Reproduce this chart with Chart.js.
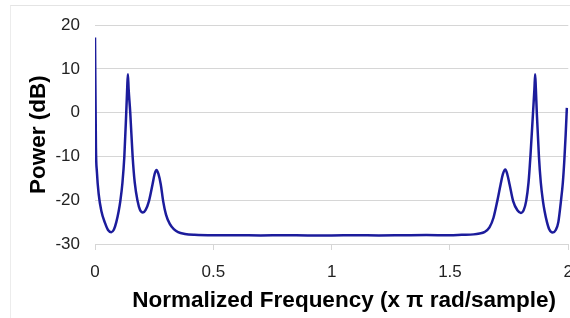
<!DOCTYPE html>
<html>
<head>
<meta charset="utf-8">
<script src="https://cdn.jsdelivr.net/npm/chart.js@4"></script>
<style>
    html, body { margin: 0; padding: 0; background: #fff; overflow: hidden; width: 570px; height: 318px; }
    #frame { position: absolute; left: 10px; top: 5px; width: 580px; height: 330px; border-top: 1px solid #e4e4e4; border-left: 1px solid #ececec; }
    #wrap { position: absolute; left: 0; top: 0; width: 585px; height: 318px; }
</style>
</head>
<body>
<div id="frame"></div>
<div id="wrap"><canvas id="psd"></canvas></div>
<script>
// Frecuencia normalizada (x pi rad/muestra) y potencia (dB)
const freqs = [
    0.000, 0.004, 0.008, 0.0156, 0.0266, 0.043, 0.055, 0.069, 0.080, 0.090,
    0.100, 0.107, 0.116, 0.124, 0.132, 0.136, 0.139, 0.142, 0.149, 0.159,
    0.168, 0.180, 0.190, 0.2025, 0.214, 0.228, 0.243, 0.252, 0.260, 0.268,
    0.278, 0.288, 0.300, 0.316, 0.333, 0.351, 0.380, 0.420, 0.500, 0.600,
    0.700, 0.800, 0.900, 1.000, 1.100, 1.200, 1.300, 1.400, 1.500, 1.550,
    1.600, 1.625, 1.645, 1.667, 1.684, 1.700, 1.714, 1.724, 1.734, 1.742,
    1.752, 1.767, 1.785, 1.800, 1.812, 1.822, 1.832, 1.840, 1.851, 1.857,
    1.860, 1.863, 1.867, 1.876, 1.884, 1.893, 1.900, 1.910, 1.920, 1.934,
    1.947, 1.958, 1.969, 1.977, 1.983, 1.989, 1.994
];
const power = [
    17.2, -8.0, -13.5, -18.6, -22.4, -25.3, -26.8, -27.3, -26.7, -25.0,
    -22.5, -20.2, -16.0, -10.0, 0.0, 5.5, 8.8, 5.5, 0.0, -10.0,
    -16.0, -20.2, -22.2, -22.8, -22.2, -20.2, -16.4, -14.0, -13.1, -14.0,
    -16.4, -20.2, -23.3, -25.4, -26.6, -27.3, -27.7, -27.9, -28.0, -28.0,
    -28.05, -28.0, -28.05, -28.05, -28.0, -28.05, -28.0, -27.95, -28.0, -27.9,
    -27.8, -27.6, -27.3, -26.2, -24.0, -20.2, -16.4, -14.0, -13.0, -14.0,
    -16.4, -20.2, -22.3, -22.9, -22.2, -20.2, -16.0, -10.0, 0.0, 5.5,
    8.8, 5.5, 0.0, -10.0, -16.0, -20.2, -22.5, -25.0, -26.7, -27.4,
    -26.8, -25.0, -20.2, -16.0, -11.2, -5.0, 1.1
];

const xTicks = [0, 0.5, 1, 1.5, 2];
const yTicks = [-30, -20, -10, 0, 10, 20];

const FONT = "'Liberation Sans', Arial, Helvetica, sans-serif";
const GRIS = '#d6d6d6';

const puntos = freqs.map((f, i) => ({ x: f, y: power[i] }));

new Chart(document.getElementById('psd').getContext('2d'), {
    type: 'line',
    data: {
        datasets: [{
            data: puntos,
            borderColor: '#1c1c9c',
            borderWidth: 2.5,
            pointRadius: 0,
            fill: false,
            cubicInterpolationMode: 'monotone'
        }]
    },
    options: {
        responsive: true,
        maintainAspectRatio: false,
        animation: false,
        layout: { padding: { top: 10, left: 0, right: 0, bottom: 0 } },
        plugins: { legend: { display: false }, tooltip: { enabled: false } },
        scales: {
            x: {
                type: 'linear',
                min: 0,
                max: 2,
                afterBuildTicks: axis => { axis.ticks = xTicks.map(v => ({ value: v })); },
                afterFit: axis => { axis.height = 74; },
                grid: { drawOnChartArea: false, drawTicks: true, tickLength: 6, color: GRIS },
                border: { display: true, color: GRIS },
                ticks: {
                    color: '#222', font: { family: FONT, size: 17 }, padding: 12, maxRotation: 0,
                    callback: v => String(v)
                },
                title: {
                    display: true,
                    // espacios duros para correr el titulo un poco a la derecha
                    text: '\u00a0\u00a0\u00a0\u00a0Normalized Frequency (x π rad/sample)',
                    color: '#000',
                    font: { family: FONT, size: 22.5, weight: 'bold' },
                    padding: { top: 7, bottom: 4 }
                }
            },
            y: {
                min: -30,
                max: 20,
                afterBuildTicks: axis => { axis.ticks = yTicks.map(v => ({ value: v })); },
                afterFit: axis => { axis.width = 95; },
                grid: { drawTicks: false, color: GRIS },
                border: { display: false },
                ticks: { color: '#222', font: { family: FONT, size: 17 }, padding: 15, callback: v => String(v) },
                title: {
                    display: true,
                    text: 'Power (dB)',
                    color: '#000',
                    font: { family: FONT, size: 22.5, weight: 'bold' },
                    padding: { top: 25, bottom: 0 }
                }
            }
        }
    }
});
</script>
</body>
</html>
